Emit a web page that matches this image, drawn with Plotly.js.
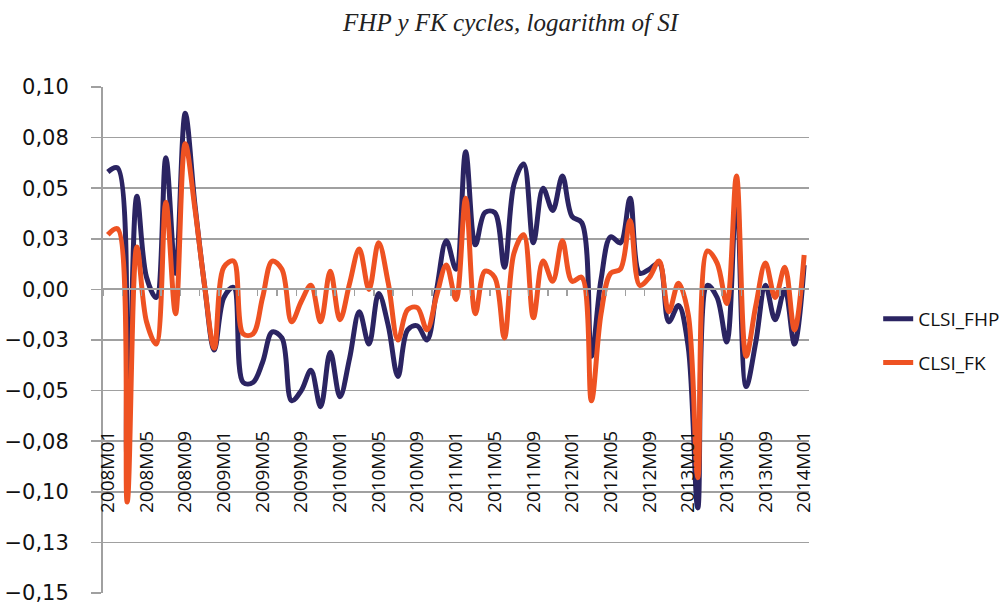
<!DOCTYPE html>
<html>
<head>
<meta charset="utf-8">
<script src="https://cdn.plot.ly/plotly-3.0.1.min.js"></script>
<style>html,body{margin:0;padding:0;background:#fff;}#chart{width:1005px;height:607px;}</style>
</head>
<body>
<div id="chart"></div>
<script>
const months = ["2008M01","2008M02","2008M03","2008M04","2008M05","2008M06","2008M07","2008M08","2008M09","2008M10","2008M11","2008M12",
"2009M01","2009M02","2009M03","2009M04","2009M05","2009M06","2009M07","2009M08","2009M09","2009M10","2009M11","2009M12",
"2010M01","2010M02","2010M03","2010M04","2010M05","2010M06","2010M07","2010M08","2010M09","2010M10","2010M11","2010M12",
"2011M01","2011M02","2011M03","2011M04","2011M05","2011M06","2011M07","2011M08","2011M09","2011M10","2011M11","2011M12",
"2012M01","2012M02","2012M03","2012M04","2012M05","2012M06","2012M07","2012M08","2012M09","2012M10","2012M11","2012M12",
"2013M01","2013M02","2013M03","2013M04","2013M05","2013M06","2013M07","2013M08","2013M09","2013M10","2013M11","2013M12",
"2014M01"];

const clsiFHP = [0.058,0.060,-0.085,0.046,0.006,-0.004,0.065,0.008,0.087,0.042,0.002,-0.030,
-0.004,0.001,-0.046,-0.046,-0.036,-0.021,-0.024,-0.055,-0.050,-0.040,-0.058,-0.031,
-0.053,-0.034,-0.011,-0.027,-0.002,-0.018,-0.043,-0.020,-0.018,-0.025,0.000,0.024,
0.010,0.068,0.022,0.038,0.038,0.011,0.052,0.062,0.023,0.050,0.039,0.056,
0.036,0.033,-0.033,0.005,0.026,0.023,0.045,0.008,0.010,0.013,-0.016,-0.008,
-0.028,-0.108,0.002,-0.004,-0.026,0.048,-0.048,-0.026,0.002,-0.015,0.000,-0.027,
0.012];

const clsiFK = [0.027,0.030,-0.105,0.021,-0.016,-0.027,0.043,-0.012,0.072,0.040,0.002,-0.029,
0.011,0.014,-0.022,-0.022,-0.004,0.014,0.010,-0.016,-0.006,0.002,-0.016,0.009,
-0.015,0.003,0.020,0.000,0.023,0.003,-0.025,-0.010,-0.009,-0.020,-0.003,0.012,
-0.005,0.045,-0.012,0.009,0.006,-0.024,0.018,0.027,-0.014,0.014,0.004,0.024,
0.004,0.006,-0.055,-0.012,0.008,0.010,0.034,0.002,0.006,0.014,-0.011,0.003,
-0.012,-0.093,0.019,0.013,-0.007,0.056,-0.033,-0.008,0.013,-0.004,0.011,-0.020,
0.017];

const xTickLabels = ["2008M01","2008M05","2008M09","2009M01","2009M05","2009M09","2010M01","2010M05","2010M09",
"2011M01","2011M05","2011M09","2012M01","2012M05","2012M09","2013M01","2013M05","2013M09","2014M01"];

const yTickVals = [-0.15,-0.125,-0.10,-0.075,-0.05,-0.025,0,0.025,0.05,0.075,0.10];
const yTickText = ["\u22120,15","\u22120,13","\u22120,10","\u22120,08","\u22120,05","\u22120,03","0,00","0,03","0,05","0,08","0,10"];

const traces = [
  {x: months, y: clsiFHP, name: "CLSI_FHP", type: "scatter", mode: "lines",
   line: {color: "#2b2462", width: 5, shape: "spline", smoothing: 1}, legendgroup: "a"},
  {x: months, y: clsiFK, name: "CLSI_FK", type: "scatter", mode: "lines",
   line: {color: "#ee5222", width: 5, shape: "spline", smoothing: 1}, legendgroup: "b"},
  {x: months, y: months.map(() => null), xaxis: "x3", type: "scatter", mode: "lines",
   showlegend: false, hoverinfo: "skip"}
];

const layout = {
  width: 1005, height: 607,
  margin: {l: 103, r: 196, t: 87, b: 14, autoexpand: false},
  paper_bgcolor: "#ffffff", plot_bgcolor: "#ffffff",
  title: {text: "<i>FHP y FK cycles, logarithm of SI</i>", x: 0.508, xref: "container", xanchor: "center",
          y: 0.963, yref: "container", yanchor: "middle",
          font: {family: "Liberation Serif, serif", size: 25, color: "#222"}},
  xaxis: {type: "category", range: [-0.5, 72.5], anchor: "free", position: 0.6,
          showline: true, linecolor: "#a0a0a0", linewidth: 2,
          ticks: "outside", tickson: "boundaries", ticklen: 6, tickcolor: "#a0a0a0", tickwidth: 1.5,
          showticklabels: false, showgrid: false, zeroline: false},
  xaxis3: {type: "category", overlaying: "x", range: [-0.5, 72.5], anchor: "free", position: 0.33, side: "bottom",
           tickmode: "array", tickvals: xTickLabels, ticktext: xTickLabels, tickangle: -90,
           ticks: "", showline: false, showgrid: false, zeroline: false,
           tickfont: {family: "Open Sans, sans-serif", size: 19, color: "#111"}},
  yaxis: {range: [-0.15, 0.10], tickmode: "array", tickvals: yTickVals, ticktext: yTickText,
          showgrid: true, gridcolor: "#a0a0a0", gridwidth: 1.5, zeroline: false,
          showline: true, linecolor: "#a0a0a0", linewidth: 2,
          ticks: "outside", ticklen: 10, tickcolor: "#a0a0a0", tickwidth: 1.5, ticklabelstandoff: 18,
          tickfont: {family: "DejaVu Sans, sans-serif", size: 21, color: "#111"}},
  legend: {x: 1.098, xanchor: "left", y: 0.498, yanchor: "middle", traceorder: "grouped", tracegroupgap: 16,
           font: {family: "Open Sans, sans-serif", size: 19, color: "#111"}, bgcolor: "rgba(0,0,0,0)"},
  showlegend: true
};

Plotly.newPlot("chart", traces, layout, {staticPlot: true, displayModeBar: false});
</script>
</body>
</html>
